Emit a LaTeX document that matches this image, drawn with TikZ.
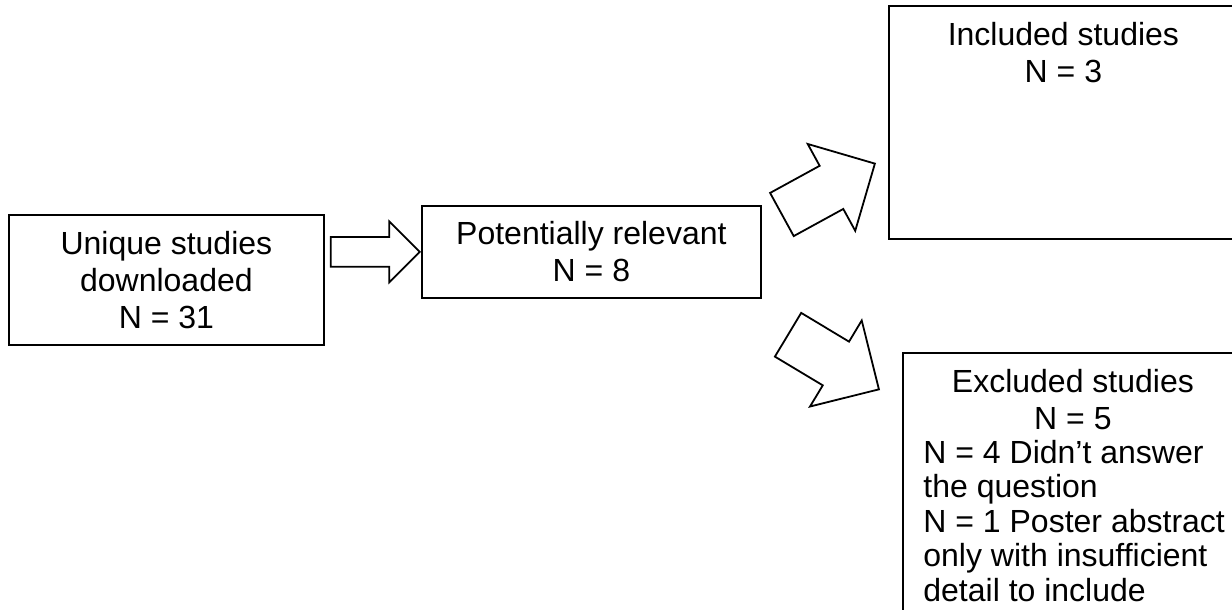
\documentclass[tikz,border=0pt]{standalone}
\usepackage{fontspec}
\setmainfont{Liberation Sans}
\usetikzlibrary{shapes.arrows}
\usetikzlibrary{positioning}

\tikzset{
  box/.style={draw, line width=0.9pt, inner sep=0pt, align=center, anchor=north west},
  boxtext/.style={inner sep=0pt, align=center},
  blockarrow/.style={draw, single arrow, line width=0.9pt, inner sep=0pt, single arrow tip angle=90},
}

\begin{document}
\begin{tikzpicture}[x=0.5pt, y=-0.5pt, font=\fontsize{16pt}{18.5pt}\selectfont]
  \useasboundingbox (0,0) rectangle (1232,610);
  \clip (0,0) rectangle (1232,610);
  % boxes
  \node[box, minimum width=157.5pt, minimum height=65pt] (uniq) at (8,214) {Unique studies\\downloaded\\N = 31};
  \node[box, minimum width=169.5pt, minimum height=46pt] (pot) at (421,205) {Potentially relevant\\N = 8};
  \node[box, minimum width=174.5pt, minimum height=116.5pt] (incl) at (888,5) {};
  \node[box, minimum width=170pt, minimum height=150pt] (excl) at (902,352) {};
  \node[boxtext, below=8.5pt of incl.north] (incltext) {Included studies\\N = 3};
  \node[boxtext, below=8.5pt of excl.north] (excltitle) {Excluded studies\\N = 5};
  \node[boxtext, align=left, font=\fontsize{16pt}{17.2pt}\selectfont, below right=44pt and 10.5pt of excl.north west] (excltext)
    {N = 4 Didn’t answer\\the question\\N = 1 Poster abstract\\only with insufficient\\detail to include};
  % block arrows (width = across the head, height = along the arrow)
  \node[blockarrow, minimum width=29.5pt, minimum height=44.5pt, text height=7pt, text depth=7pt, single arrow head extend=7.75pt, anchor=tip] (arr1) at (pot.west) {};
  \coordinate (tip2) at (876,163);
  \node[blockarrow, minimum width=48.6pt, minimum height=53pt, text height=11.85pt, text depth=11.85pt, single arrow head extend=12.45pt, rotate=28.7, anchor=tip] (arr2) at (tip2) {};
  \coordinate (tip3) at (880,390);
  \node[blockarrow, minimum width=49.3pt, minimum height=53pt, text height=12.3pt, text depth=12.3pt, single arrow head extend=12.35pt, rotate=-31, anchor=tip] (arr3) at (tip3) {};
\end{tikzpicture}
\end{document}
